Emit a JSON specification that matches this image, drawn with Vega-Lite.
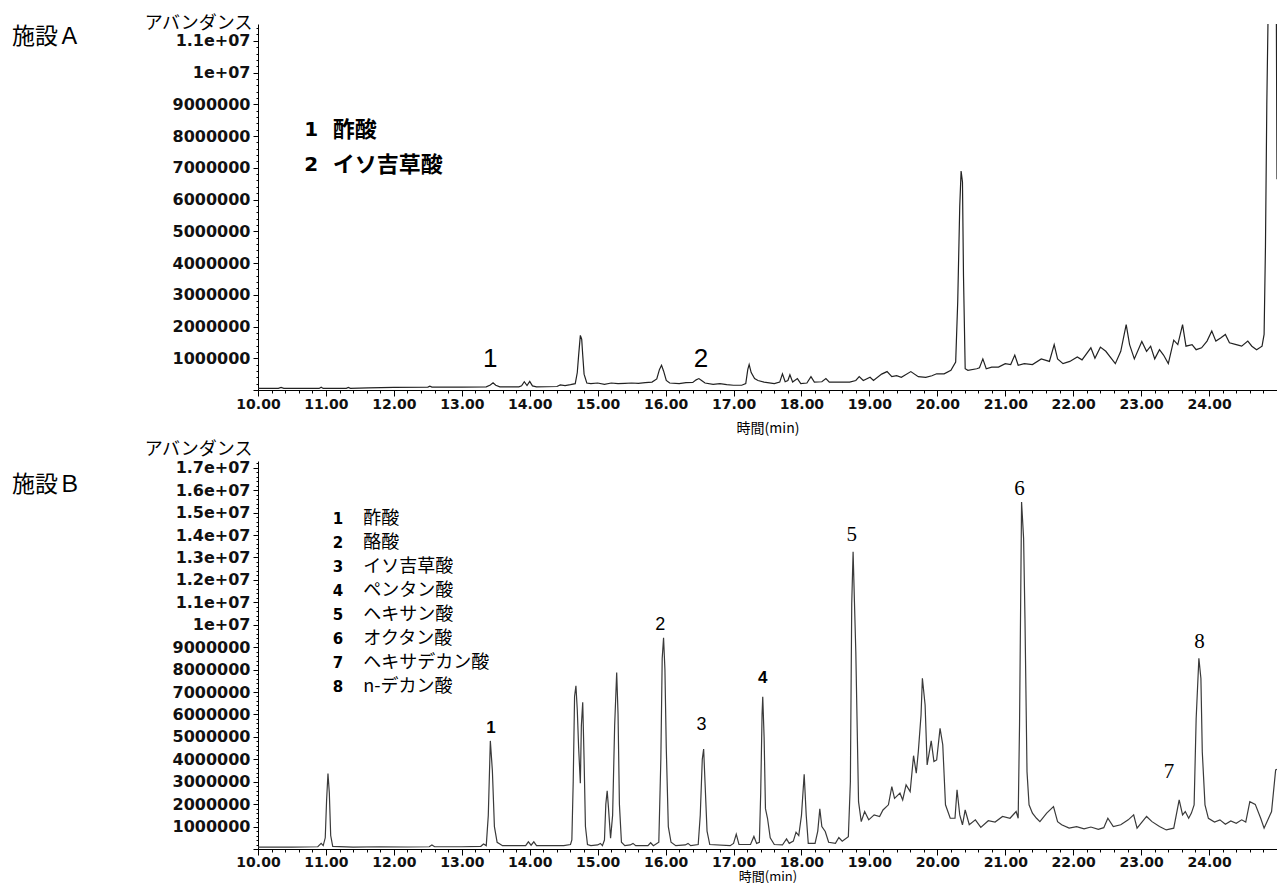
{
"$schema": "https://vega.github.io/schema/vega-lite/v6.json",
"background": "white",
"padding": {"left": 12, "top": 14, "right": 0, "bottom": 0},
"bounds": "flush",
"spacing": 71,
"config": {"view": {"stroke": null}, "axis": {"grid": false, "labelOverlap": false, "domainColor": "#000", "tickColor": "#000", "labelColor": "#111", "titleColor": "#000", "labelFont": "DejaVu Sans", "labelFontWeight": "bold", "titleFont": "Noto Sans CJK JP", "titleFontWeight": "normal"}},
"datasets": {
"a": [
{"t":10.00,"v":50000},{"t":10.30,"v":50000},{"t":10.34,"v":80000},{"t":10.38,"v":50000},{"t":10.90,"v":50000},{"t":10.93,"v":90000},{"t":10.96,"v":50000},{"t":11.30,"v":50000},{"t":11.33,"v":80000},{"t":11.36,"v":50000},{"t":11.62,"v":70000},{"t":12.00,"v":80000},{"t":12.50,"v":90000},{"t":12.53,"v":120000},{"t":12.56,"v":90000},{"t":13.00,"v":90000},{"t":13.36,"v":100000},{"t":13.42,"v":160000},{"t":13.46,"v":230000},{"t":13.50,"v":150000},{"t":13.56,"v":100000},{"t":13.84,"v":100000},{"t":13.88,"v":130000},{"t":13.92,"v":260000},{"t":13.96,"v":140000},{"t":14.00,"v":270000},{"t":14.04,"v":130000},{"t":14.10,"v":100000},{"t":14.40,"v":110000},{"t":14.45,"v":160000},{"t":14.52,"v":140000},{"t":14.60,"v":170000},{"t":14.67,"v":200000},{"t":14.70,"v":550000},{"t":14.72,"v":1100000},{"t":14.745,"v":1720000},{"t":14.765,"v":1600000},{"t":14.78,"v":1100000},{"t":14.80,"v":500000},{"t":14.84,"v":220000},{"t":14.90,"v":200000},{"t":15.00,"v":220000},{"t":15.10,"v":180000},{"t":15.20,"v":220000},{"t":15.30,"v":200000},{"t":15.40,"v":210000},{"t":15.50,"v":220000},{"t":15.60,"v":210000},{"t":15.70,"v":230000},{"t":15.80,"v":250000},{"t":15.87,"v":350000},{"t":15.91,"v":650000},{"t":15.94,"v":780000},{"t":15.97,"v":600000},{"t":16.01,"v":300000},{"t":16.06,"v":220000},{"t":16.20,"v":200000},{"t":16.30,"v":230000},{"t":16.40,"v":240000},{"t":16.45,"v":320000},{"t":16.49,"v":360000},{"t":16.53,"v":300000},{"t":16.58,"v":220000},{"t":16.70,"v":180000},{"t":16.80,"v":200000},{"t":16.90,"v":170000},{"t":17.00,"v":150000},{"t":17.12,"v":150000},{"t":17.18,"v":200000},{"t":17.21,"v":650000},{"t":17.23,"v":800000},{"t":17.26,"v":550000},{"t":17.31,"v":360000},{"t":17.36,"v":300000},{"t":17.45,"v":250000},{"t":17.60,"v":200000},{"t":17.68,"v":250000},{"t":17.72,"v":510000},{"t":17.76,"v":260000},{"t":17.80,"v":300000},{"t":17.83,"v":480000},{"t":17.87,"v":250000},{"t":17.94,"v":360000},{"t":17.99,"v":200000},{"t":18.08,"v":220000},{"t":18.14,"v":420000},{"t":18.19,"v":250000},{"t":18.30,"v":260000},{"t":18.36,"v":360000},{"t":18.41,"v":250000},{"t":18.71,"v":250000},{"t":18.80,"v":300000},{"t":18.85,"v":420000},{"t":18.91,"v":300000},{"t":19.01,"v":400000},{"t":19.06,"v":300000},{"t":19.18,"v":500000},{"t":19.26,"v":580000},{"t":19.33,"v":420000},{"t":19.40,"v":450000},{"t":19.47,"v":400000},{"t":19.61,"v":580000},{"t":19.72,"v":420000},{"t":19.83,"v":400000},{"t":19.92,"v":450000},{"t":19.99,"v":510000},{"t":20.10,"v":510000},{"t":20.20,"v":620000},{"t":20.27,"v":880000},{"t":20.30,"v":2770000},{"t":20.33,"v":5800000},{"t":20.35,"v":6900000},{"t":20.37,"v":6550000},{"t":20.385,"v":3600000},{"t":20.41,"v":670000},{"t":20.45,"v":620000},{"t":20.58,"v":670000},{"t":20.62,"v":700000},{"t":20.67,"v":980000},{"t":20.72,"v":670000},{"t":20.80,"v":720000},{"t":20.90,"v":720000},{"t":21.00,"v":830000},{"t":21.08,"v":800000},{"t":21.14,"v":1100000},{"t":21.19,"v":780000},{"t":21.28,"v":830000},{"t":21.40,"v":800000},{"t":21.53,"v":980000},{"t":21.65,"v":900000},{"t":21.72,"v":1430000},{"t":21.77,"v":980000},{"t":21.85,"v":830000},{"t":21.95,"v":900000},{"t":22.06,"v":1040000},{"t":22.13,"v":950000},{"t":22.26,"v":1330000},{"t":22.32,"v":1000000},{"t":22.40,"v":1350000},{"t":22.48,"v":1220000},{"t":22.62,"v":830000},{"t":22.70,"v":1220000},{"t":22.78,"v":2060000},{"t":22.83,"v":1430000},{"t":22.90,"v":980000},{"t":23.01,"v":1530000},{"t":23.08,"v":1220000},{"t":23.14,"v":1380000},{"t":23.20,"v":980000},{"t":23.27,"v":1270000},{"t":23.33,"v":1100000},{"t":23.40,"v":830000},{"t":23.48,"v":1570000},{"t":23.54,"v":1430000},{"t":23.61,"v":2060000},{"t":23.66,"v":1380000},{"t":23.75,"v":1430000},{"t":23.81,"v":1270000},{"t":23.89,"v":1330000},{"t":23.97,"v":1540000},{"t":24.04,"v":1860000},{"t":24.10,"v":1540000},{"t":24.17,"v":1640000},{"t":24.24,"v":1750000},{"t":24.30,"v":1490000},{"t":24.40,"v":1430000},{"t":24.48,"v":1380000},{"t":24.57,"v":1540000},{"t":24.63,"v":1380000},{"t":24.70,"v":1270000},{"t":24.78,"v":1380000},{"t":24.81,"v":1750000},{"t":24.83,"v":4500000},{"t":24.85,"v":9000000},{"t":24.87,"v":12000000},{"t":24.99,"v":12000000},{"t":25.00,"v":6640000}
],
"b": [
{"t":10.00,"v":80000},{"t":10.50,"v":80000},{"t":10.88,"v":100000},{"t":10.93,"v":250000},{"t":10.96,"v":150000},{"t":10.99,"v":500000},{"t":11.01,"v":2200000},{"t":11.03,"v":3370000},{"t":11.05,"v":2500000},{"t":11.07,"v":600000},{"t":11.10,"v":120000},{"t":11.40,"v":80000},{"t":11.80,"v":100000},{"t":12.20,"v":90000},{"t":12.52,"v":100000},{"t":12.56,"v":180000},{"t":12.60,"v":100000},{"t":13.00,"v":100000},{"t":13.28,"v":120000},{"t":13.32,"v":220000},{"t":13.36,"v":150000},{"t":13.39,"v":1500000},{"t":13.42,"v":4820000},{"t":13.45,"v":3500000},{"t":13.48,"v":1000000},{"t":13.52,"v":300000},{"t":13.60,"v":150000},{"t":13.94,"v":150000},{"t":13.98,"v":320000},{"t":14.02,"v":170000},{"t":14.06,"v":320000},{"t":14.10,"v":150000},{"t":14.50,"v":150000},{"t":14.60,"v":200000},{"t":14.62,"v":400000},{"t":14.64,"v":3000000},{"t":14.66,"v":6800000},{"t":14.68,"v":7280000},{"t":14.70,"v":6200000},{"t":14.72,"v":4500000},{"t":14.745,"v":2930000},{"t":14.76,"v":5500000},{"t":14.78,"v":6540000},{"t":14.80,"v":4000000},{"t":14.82,"v":1000000},{"t":14.85,"v":200000},{"t":14.90,"v":150000},{"t":15.00,"v":180000},{"t":15.04,"v":250000},{"t":15.07,"v":150000},{"t":15.10,"v":400000},{"t":15.12,"v":2000000},{"t":15.14,"v":2590000},{"t":15.16,"v":1800000},{"t":15.19,"v":480000},{"t":15.22,"v":1500000},{"t":15.25,"v":5500000},{"t":15.28,"v":7870000},{"t":15.30,"v":6000000},{"t":15.32,"v":2000000},{"t":15.35,"v":300000},{"t":15.40,"v":150000},{"t":15.48,"v":180000},{"t":15.52,"v":250000},{"t":15.56,"v":150000},{"t":15.74,"v":150000},{"t":15.78,"v":280000},{"t":15.82,"v":150000},{"t":15.90,"v":300000},{"t":15.93,"v":4000000},{"t":15.95,"v":8500000},{"t":15.97,"v":9420000},{"t":15.99,"v":8000000},{"t":16.01,"v":4500000},{"t":16.04,"v":1000000},{"t":16.08,"v":300000},{"t":16.15,"v":150000},{"t":16.29,"v":180000},{"t":16.33,"v":250000},{"t":16.37,"v":150000},{"t":16.48,"v":200000},{"t":16.51,"v":1500000},{"t":16.54,"v":4000000},{"t":16.56,"v":4460000},{"t":16.58,"v":3000000},{"t":16.61,"v":800000},{"t":16.65,"v":200000},{"t":16.95,"v":150000},{"t":17.00,"v":250000},{"t":17.04,"v":660000},{"t":17.08,"v":200000},{"t":17.25,"v":200000},{"t":17.30,"v":560000},{"t":17.34,"v":250000},{"t":17.38,"v":300000},{"t":17.40,"v":2500000},{"t":17.42,"v":6000000},{"t":17.43,"v":6790000},{"t":17.45,"v":5000000},{"t":17.47,"v":1800000},{"t":17.50,"v":1370000},{"t":17.54,"v":500000},{"t":17.60,"v":200000},{"t":17.72,"v":180000},{"t":17.78,"v":450000},{"t":17.82,"v":250000},{"t":17.88,"v":350000},{"t":17.92,"v":750000},{"t":17.96,"v":600000},{"t":18.00,"v":1500000},{"t":18.04,"v":3330000},{"t":18.07,"v":1500000},{"t":18.10,"v":250000},{"t":18.20,"v":250000},{"t":18.24,"v":800000},{"t":18.27,"v":1790000},{"t":18.30,"v":1000000},{"t":18.35,"v":780000},{"t":18.40,"v":300000},{"t":18.50,"v":250000},{"t":18.55,"v":510000},{"t":18.60,"v":350000},{"t":18.69,"v":550000},{"t":18.72,"v":3000000},{"t":18.74,"v":10950000},{"t":18.76,"v":13250000},{"t":18.78,"v":11000000},{"t":18.80,"v":8790000},{"t":18.84,"v":2110000},{"t":18.88,"v":1220000},{"t":18.93,"v":1670000},{"t":18.99,"v":1300000},{"t":19.07,"v":1520000},{"t":19.15,"v":1450000},{"t":19.20,"v":1740000},{"t":19.28,"v":1970000},{"t":19.33,"v":2780000},{"t":19.37,"v":2260000},{"t":19.45,"v":2490000},{"t":19.49,"v":2190000},{"t":19.54,"v":2860000},{"t":19.60,"v":2560000},{"t":19.65,"v":4160000},{"t":19.69,"v":3380000},{"t":19.72,"v":4340000},{"t":19.76,"v":5970000},{"t":19.78,"v":7610000},{"t":19.82,"v":6420000},{"t":19.85,"v":3750000},{"t":19.91,"v":4820000},{"t":19.95,"v":3900000},{"t":19.99,"v":3970000},{"t":20.04,"v":5380000},{"t":20.08,"v":4640000},{"t":20.12,"v":1970000},{"t":20.19,"v":1370000},{"t":20.26,"v":1370000},{"t":20.29,"v":2640000},{"t":20.33,"v":1520000},{"t":20.37,"v":1080000},{"t":20.41,"v":1740000},{"t":20.47,"v":1080000},{"t":20.56,"v":1300000},{"t":20.64,"v":960000},{"t":20.75,"v":1260000},{"t":20.85,"v":1200000},{"t":20.96,"v":1450000},{"t":21.07,"v":1370000},{"t":21.16,"v":1670000},{"t":21.19,"v":1370000},{"t":21.21,"v":5530000},{"t":21.24,"v":15470000},{"t":21.27,"v":13840000},{"t":21.29,"v":10280000},{"t":21.32,"v":3450000},{"t":21.35,"v":1970000},{"t":21.40,"v":1600000},{"t":21.46,"v":1370000},{"t":21.51,"v":1220000},{"t":21.61,"v":1600000},{"t":21.71,"v":1890000},{"t":21.77,"v":1220000},{"t":21.83,"v":1080000},{"t":21.94,"v":930000},{"t":22.05,"v":1000000},{"t":22.16,"v":900000},{"t":22.26,"v":980000},{"t":22.37,"v":880000},{"t":22.45,"v":950000},{"t":22.51,"v":1370000},{"t":22.59,"v":1000000},{"t":22.70,"v":1080000},{"t":22.81,"v":1300000},{"t":22.89,"v":1520000},{"t":22.94,"v":930000},{"t":23.08,"v":1450000},{"t":23.16,"v":1220000},{"t":23.27,"v":1000000},{"t":23.37,"v":850000},{"t":23.48,"v":930000},{"t":23.56,"v":2190000},{"t":23.61,"v":1520000},{"t":23.65,"v":1670000},{"t":23.70,"v":1370000},{"t":23.74,"v":1600000},{"t":23.78,"v":1970000},{"t":23.81,"v":5820000},{"t":23.85,"v":8500000},{"t":23.88,"v":7600000},{"t":23.90,"v":4340000},{"t":23.94,"v":1970000},{"t":23.99,"v":1370000},{"t":24.08,"v":1200000},{"t":24.16,"v":1300000},{"t":24.24,"v":1100000},{"t":24.32,"v":1250000},{"t":24.40,"v":1150000},{"t":24.48,"v":1300000},{"t":24.54,"v":1200000},{"t":24.60,"v":2110000},{"t":24.68,"v":1990000},{"t":24.76,"v":1370000},{"t":24.81,"v":930000},{"t":24.92,"v":1670000},{"t":24.98,"v":3530000},{"t":25.00,"v":3550000}
],
"peaksA": [{"t":13.42,"v":980000,"label":"1"},{"t":16.52,"v":980000,"label":"2"}],
"peaksB": [
{"t":13.43,"v":5380000,"label":"1","style":"bold"},
{"t":15.92,"v":9980000,"label":"2","style":"plain"},
{"t":16.53,"v":5530000,"label":"3","style":"plain"},
{"t":17.43,"v":7610000,"label":"4","style":"bold"},
{"t":18.74,"v":13990000,"label":"5","style":"serif"},
{"t":21.21,"v":16070000,"label":"6","style":"serif"},
{"t":23.41,"v":3450000,"label":"7","style":"serif"},
{"t":23.86,"v":9240000,"label":"8","style":"serif"}
],
"legA": [{"num":"1","name":"酢酸"},{"num":"2","name":"イソ吉草酸"}],
"legB": [{"num":"1","name":"酢酸"},{"num":"2","name":"酪酸"},{"num":"3","name":"イソ吉草酸"},{"num":"4","name":"ペンタン酸"},{"num":"5","name":"ヘキサン酸"},{"num":"6","name":"オクタン酸"},{"num":"7","name":"ヘキサデカン酸"},{"num":"8","name":"n-デカン酸"}]
},
"vconcat": [
{
"width": 1019, "height": 366,
"title": {"text": "施設Ａ", "orient": "left", "anchor": "end", "angle": 0, "align": "right", "baseline": "top", "offset": -6, "dy": 12, "font": "Noto Sans CJK JP", "fontSize": 23, "fontWeight": "normal", "color": "#000"},
"layer": [
{"encoding": {
  "x": {"field": "t", "type": "quantitative", "scale": {"domain": [10, 25], "nice": false, "zero": false},
   "axis": {"title": "時間(min)", "values": [10,10.2,10.4,10.6,10.8,11,11.2,11.4,11.6,11.8,12,12.2,12.4,12.6,12.8,13,13.2,13.4,13.6,13.8,14,14.2,14.4,14.6,14.8,15,15.2,15.4,15.6,15.8,16,16.2,16.4,16.6,16.8,17,17.2,17.4,17.6,17.8,18,18.2,18.4,18.6,18.8,19,19.2,19.4,19.6,19.8,20,20.2,20.4,20.6,20.8,21,21.2,21.4,21.6,21.8,22,22.2,22.4,22.6,22.8,23,23.2,23.4,23.6,23.8,24,24.2,24.4,24.6,24.8],
    "labelExpr": "abs(datum.value - round(datum.value)) < 0.01 ? format(datum.value, '.2f') : ''",
    "tickSize": {"condition": {"test": "abs(datum.value - round(datum.value)) < 0.01", "value": 6}, "value": 3},
    "labelFontSize": 14, "labelPadding": 1, "labelOverlap": false, "labelFlush": false, "labelBound": false,
    "titleFontSize": 14, "titlePadding": 10}},
  "y": {"field": "v", "type": "quantitative", "scale": {"domain": [0, 11530000], "nice": false},
   "axis": {"title": "アバンダンス", "values": [0,200000,400000,600000,800000,1000000,1200000,1400000,1600000,1800000,2000000,2200000,2400000,2600000,2800000,3000000,3200000,3400000,3600000,3800000,4000000,4200000,4400000,4600000,4800000,5000000,5200000,5400000,5600000,5800000,6000000,6200000,6400000,6600000,6800000,7000000,7200000,7400000,7600000,7800000,8000000,8200000,8400000,8600000,8800000,9000000,9200000,9400000,9600000,9800000,10000000,10200000,10400000,10600000,10800000,11000000,11200000,11400000],
    "labelExpr": "datum.value == 0 || datum.value % 1000000 != 0 ? '' : (datum.value < 10000000 ? format(datum.value, 'd') : replace(format(datum.value, '.2~e'), 'e+7', 'e+07'))",
    "tickSize": {"condition": {"test": "datum.value % 1000000 == 0", "value": 5}, "value": 2},
    "labelFontSize": 16, "labelPadding": 3, "labelOverlap": false,
    "titleAngle": 0, "titleAlign": "right", "titleBaseline": "middle", "titleX": -6, "titleY": -1, "titleFontSize": 18}}
 },
 "layer": [
 {"data": {"name": "a"}, "mark": {"type": "line", "color": "#222", "strokeWidth": 1.2, "clip": true}},
 {"data": {"name": "peaksA"},
  "mark": {"type": "text", "font": "Liberation Sans Narrow, Liberation Sans", "fontSize": 26, "align": "center", "baseline": "middle", "color": "#000"},
  "encoding": {"text": {"field": "label"}}}
 ]},
{"data": {"name": "legA"},
 "encoding": {
  "y": {"field": "num", "type": "ordinal", "scale": {"type": "point", "range": [106, 141], "padding": 0}, "axis": null}},
 "layer": [
 {"mark": {"type": "text", "align": "left", "baseline": "middle", "font": "DejaVu Sans", "fontWeight": "bold", "fontSize": 20, "color": "#000"},
  "encoding": {"x": {"datum": 10.68, "type": "quantitative", "scale": {"domain": [10, 25], "nice": false, "zero": false}, "axis": null},
   "text": {"field": "num"}}},
 {"mark": {"type": "text", "align": "left", "baseline": "middle", "font": "Noto Sans CJK JP", "fontWeight": "bold", "fontSize": 22, "color": "#000"},
  "encoding": {"x": {"datum": 11.1, "type": "quantitative", "scale": {"domain": [10, 25], "nice": false, "zero": false}, "axis": null},
   "text": {"field": "name"}}}
 ]}
],
"resolve": {"scale": {"x": "independent", "y": "independent"}, "axis": {"x": "independent", "y": "independent"}}
},
{
"width": 1019, "height": 388,
"title": {"text": "施設Ｂ", "orient": "left", "anchor": "end", "angle": 0, "align": "right", "baseline": "top", "offset": -6, "dy": 34, "font": "Noto Sans CJK JP", "fontSize": 23, "fontWeight": "normal", "color": "#000"},
"layer": [
{"encoding": {
  "x": {"field": "t", "type": "quantitative", "scale": {"domain": [10, 25], "nice": false, "zero": false},
   "axis": {"title": "時間(min)", "values": [10,10.2,10.4,10.6,10.8,11,11.2,11.4,11.6,11.8,12,12.2,12.4,12.6,12.8,13,13.2,13.4,13.6,13.8,14,14.2,14.4,14.6,14.8,15,15.2,15.4,15.6,15.8,16,16.2,16.4,16.6,16.8,17,17.2,17.4,17.6,17.8,18,18.2,18.4,18.6,18.8,19,19.2,19.4,19.6,19.8,20,20.2,20.4,20.6,20.8,21,21.2,21.4,21.6,21.8,22,22.2,22.4,22.6,22.8,23,23.2,23.4,23.6,23.8,24,24.2,24.4,24.6,24.8],
    "labelExpr": "abs(datum.value - round(datum.value)) < 0.01 ? format(datum.value, '.2f') : ''",
    "tickSize": {"condition": {"test": "abs(datum.value - round(datum.value)) < 0.01", "value": 6}, "value": 3},
    "labelFontSize": 14, "labelPadding": 0, "labelOverlap": false, "labelFlush": false, "labelBound": false,
    "titleFontSize": 13, "titlePadding": 1}},
  "y": {"field": "v", "type": "quantitative", "scale": {"domain": [0, 17300000], "nice": false},
   "axis": {"title": "アバンダンス", "values": [0,200000,400000,600000,800000,1000000,1200000,1400000,1600000,1800000,2000000,2200000,2400000,2600000,2800000,3000000,3200000,3400000,3600000,3800000,4000000,4200000,4400000,4600000,4800000,5000000,5200000,5400000,5600000,5800000,6000000,6200000,6400000,6600000,6800000,7000000,7200000,7400000,7600000,7800000,8000000,8200000,8400000,8600000,8800000,9000000,9200000,9400000,9600000,9800000,10000000,10200000,10400000,10600000,10800000,11000000,11200000,11400000,11600000,11800000,12000000,12200000,12400000,12600000,12800000,13000000,13200000,13400000,13600000,13800000,14000000,14200000,14400000,14600000,14800000,15000000,15200000,15400000,15600000,15800000,16000000,16200000,16400000,16600000,16800000,17000000,17200000],
    "labelExpr": "datum.value == 0 || datum.value % 1000000 != 0 ? '' : (datum.value < 10000000 ? format(datum.value, 'd') : replace(format(datum.value, '.2~e'), 'e+7', 'e+07'))",
    "tickSize": {"condition": {"test": "datum.value % 1000000 == 0", "value": 5}, "value": 2},
    "labelFontSize": 16, "labelPadding": 3, "labelOverlap": false,
    "titleAngle": 0, "titleAlign": "right", "titleBaseline": "middle", "titleX": -6, "titleY": -12, "titleFontSize": 18}}
 },
 "layer": [
 {"data": {"name": "b"}, "mark": {"type": "line", "color": "#3a3a3a", "strokeWidth": 1.2, "clip": true}},
 {"data": {"name": "peaksB"},
  "transform": [{"filter": "datum.style == 'bold'"}],
  "mark": {"type": "text", "font": "Liberation Sans", "fontWeight": "bold", "fontSize": 17, "align": "center", "baseline": "middle", "color": "#000"},
  "encoding": {"text": {"field": "label"}}},
 {"data": {"name": "peaksB"},
  "transform": [{"filter": "datum.style == 'plain'"}],
  "mark": {"type": "text", "font": "Liberation Sans", "fontSize": 18, "align": "center", "baseline": "middle", "color": "#000"},
  "encoding": {"text": {"field": "label"}}},
 {"data": {"name": "peaksB"},
  "transform": [{"filter": "datum.style == 'serif'"}],
  "mark": {"type": "text", "font": "Liberation Serif", "fontSize": 21, "align": "center", "baseline": "middle", "color": "#000"},
  "encoding": {"text": {"field": "label"}}}
 ]},
{"data": {"name": "legB"},
 "encoding": {
  "y": {"field": "num", "type": "ordinal", "scale": {"type": "point", "range": [58, 226], "padding": 0}, "axis": null}},
 "layer": [
 {"mark": {"type": "text", "align": "left", "baseline": "middle", "font": "DejaVu Sans", "fontWeight": "bold", "fontSize": 15, "color": "#000"},
  "encoding": {"x": {"datum": 11.1, "type": "quantitative", "scale": {"domain": [10, 25], "nice": false, "zero": false}, "axis": null},
   "text": {"field": "num"}}},
 {"mark": {"type": "text", "align": "left", "baseline": "middle", "font": "Noto Sans CJK JP", "fontSize": 18, "color": "#000"},
  "encoding": {"x": {"datum": 11.55, "type": "quantitative", "scale": {"domain": [10, 25], "nice": false, "zero": false}, "axis": null},
   "text": {"field": "name"}}}
 ]}
],
"resolve": {"scale": {"x": "independent", "y": "independent"}, "axis": {"x": "independent", "y": "independent"}}
}
]
}
